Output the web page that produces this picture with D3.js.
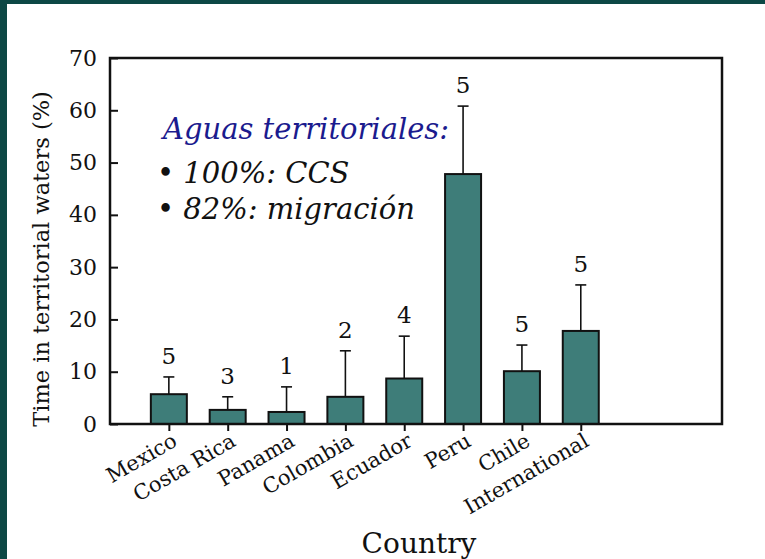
<!DOCTYPE html>
<html>
<head>
<meta charset="utf-8">
<script src="https://cdn.jsdelivr.net/npm/d3@7"></script>
<style>
  html, body { margin: 0; padding: 0; background: #0d4845; }
  #chart { position: absolute; left: 7px; top: 4px; }
  svg text { font-family: "DejaVu Serif", serif; }
</style>
</head>
<body>
<div id="chart"></div>
<script>
document.addEventListener('DOMContentLoaded', function() {
    const countries = ['Mexico', 'Costa Rica', 'Panama', 'Colombia', 'Ecuador', 'Peru', 'Chile', 'International'];
    const meanTime = [5.7, 2.7, 2.3, 5.2, 8.7, 47.8, 10.1, 17.8];
    const upperError = [9.0, 5.2, 7.1, 14.0, 16.8, 60.8, 15.1, 26.6];
    const sampleSize = [5, 3, 1, 2, 4, 5, 5, 5];
    const yTicks = [0, 10, 20, 30, 40, 50, 60, 70];
    const noteLines = ['Aguas territoriales:', '• 100%: CCS', '• 82%: migración'];

    // the picture sits inside a dark frame, offset by the div
    const W = 758, H = 555;
    const ox = 7, oy = 4;
    const margin = { top: 58 - oy, left: 110 - ox, right: W - (722 - ox), bottom: H - (424 - oy) };
    const width = W - margin.left - margin.right;
    const height = H - margin.top - margin.bottom;

    const svg = d3.select('#chart').append('svg')
        .attr('width', W)
        .attr('height', H)
        .style('background', '#fff');

    const g = svg.append('g')
        .attr('transform', `translate(${margin.left},${margin.top})`);

    // positions 1..8 on a linear scale, leaving empty room on the right
    const x = d3.scaleLinear()
        .domain([0, 10.4])
        .range([0, width]);

    const y = d3.scaleLinear()
        .domain([0, 70])
        .range([height, 0]);

    const barW = 36;
    const teal = '#3e7d79';
    const serif = '"DejaVu Serif", serif';

    // error bars (drawn first so the bar covers the lower part)
    g.selectAll('.err')
        .data(countries)
        .enter().append('line')
        .attr('x1', (d, i) => x(i + 1))
        .attr('x2', (d, i) => x(i + 1))
        .attr('y1', (d, i) => y(meanTime[i]))
        .attr('y2', (d, i) => y(upperError[i]))
        .attr('stroke', '#111')
        .attr('stroke-width', 1.6);

    g.selectAll('.cap')
        .data(countries)
        .enter().append('line')
        .attr('x1', (d, i) => x(i + 1) - 5.5)
        .attr('x2', (d, i) => x(i + 1) + 5.5)
        .attr('y1', (d, i) => y(upperError[i]))
        .attr('y2', (d, i) => y(upperError[i]))
        .attr('stroke', '#111')
        .attr('stroke-width', 1.6);

    g.selectAll('.bar')
        .data(countries)
        .enter().append('rect')
        .attr('x', (d, i) => x(i + 1) - barW / 2)
        .attr('width', barW)
        .attr('y', (d, i) => y(meanTime[i]))
        .attr('height', (d, i) => height - y(meanTime[i]))
        .attr('fill', teal)
        .attr('stroke', '#111')
        .attr('stroke-width', 2);

    // sample size above each error bar
    g.selectAll('.n')
        .data(sampleSize)
        .enter().append('text')
        .attr('x', (d, i) => x(i + 1))
        .attr('y', (d, i) => y(upperError[i]) - 13)
        .attr('text-anchor', 'middle')
        .style('font-size', '23px')
        .style('fill', '#111')
        .text(d => d);

    // frame of the plot
    g.append('rect')
        .attr('width', width)
        .attr('height', height)
        .attr('fill', 'none')
        .attr('stroke', '#111')
        .attr('stroke-width', 2.5);

    // y axis, ticks pointing inward
    const yAxis = g.append('g')
        .call(d3.axisLeft(y).tickValues(yTicks).tickSize(-8).tickPadding(13));
    yAxis.select('.domain').remove();
    yAxis.selectAll('line').attr('stroke', '#111').attr('stroke-width', 2);
    yAxis.selectAll('text')
        .style('font-size', '22px')
        .style('font-family', serif)
        .attr('fill', '#111');

    // x axis, ticks pointing down
    const xAxis = g.append('g')
        .attr('transform', `translate(0,${height})`)
        .call(d3.axisBottom(x).tickValues(d3.range(1, 9)).tickSize(7).tickFormat(d => countries[d - 1]));
    xAxis.select('.domain').remove();
    xAxis.selectAll('line').attr('stroke', '#111').attr('stroke-width', 2);
    xAxis.selectAll('text')
        .style('font-size', '21px')
        .style('font-family', serif)
        .attr('fill', '#111')
        .attr('text-anchor', 'end')
        .attr('dy', null)
        .attr('y', 0)
        .attr('transform', 'translate(9,21) rotate(-30)');

    // axis titles
    g.append('text')
        .attr('x', width / 2 + 3)
        .attr('y', height + 129)
        .attr('text-anchor', 'middle')
        .style('font-size', '28px')
        .style('fill', '#111')
        .text('Country');

    g.append('text')
        .attr('transform', `translate(${-margin.left + 42},${height / 2 + 18}) rotate(-90)`)
        .attr('text-anchor', 'middle')
        .style('font-size', '22.5px')
        .style('fill', '#111')
        .text('Time in territorial waters (%)');

    // annotation
    const note = g.append('g')
        .attr('transform', 'translate(47,81)');
    note.selectAll('text')
        .data(noteLines)
        .enter().append('text')
        .attr('x', (d, i) => i === 0 ? 6 : 0)
        .attr('y', (d, i) => [0, 44, 80][i])
        .style('font-size', '29px')
        .style('font-style', 'italic')
        .style('fill', (d, i) => i === 0 ? '#1b1b8e' : '#111')
        .text(d => d);
});
</script>
</body>
</html>
